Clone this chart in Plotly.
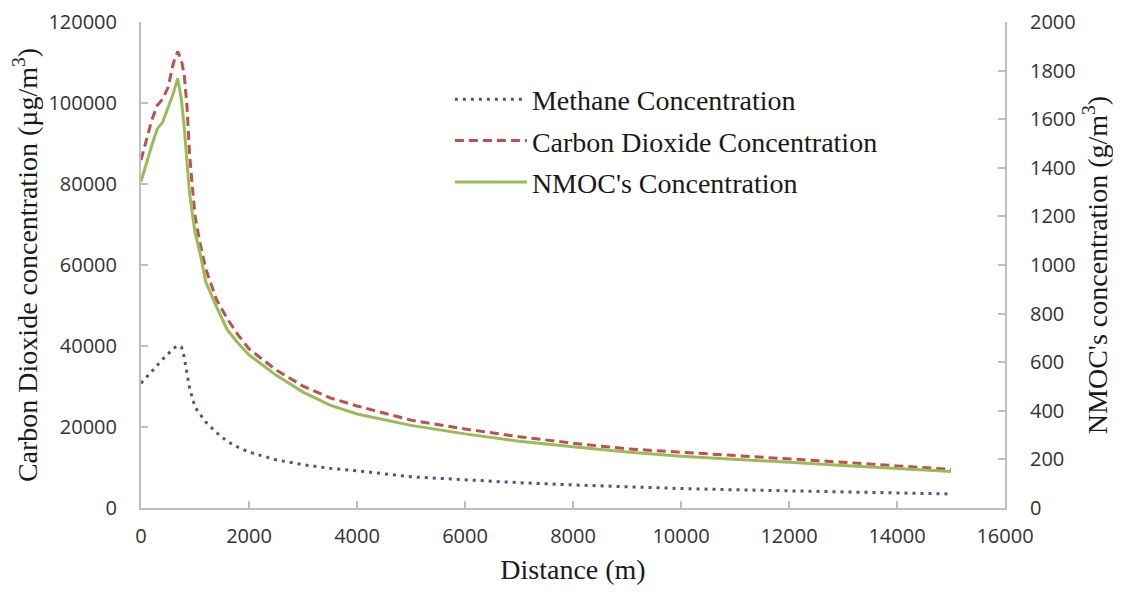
import plotly.graph_objects as go

distance = [0, 100, 200, 300, 400, 500, 600, 680, 750, 800, 850, 900, 1000, 1100, 1200,
            1400, 1600, 1800, 2000, 2500, 3000, 3500, 4000, 5000, 6000, 7000, 8000,
            9000, 10000, 11000, 12000, 13000, 14000, 15000]

methane = [30800, 32300, 33900, 35300, 36700, 38000, 39400, 40100, 39700, 37300, 33800, 29500,
           24900, 22900, 21200, 18600, 16400, 15000, 13800, 11900, 10700, 9800, 9200, 7700,
           6900, 6250, 5700, 5200, 4800, 4500, 4200, 3950, 3700, 3460]

co2 = [85900, 90800, 95800, 99400, 101000, 103800, 109900, 112700, 110400, 107000, 99500, 87200,
       72100, 64900, 59000, 51400, 46700, 42700, 39300, 34100, 30100, 27200, 25200, 21700,
       19500, 17600, 16000, 14600, 13800, 13000, 12200, 11300, 10400, 9550]

nmoc = [1343, 1422, 1493, 1560, 1587, 1647, 1708, 1768, 1678, 1567, 1412, 1292,
        1135, 1042, 930, 827, 733, 678, 630, 547, 477, 423, 387, 340,
        305, 275, 252, 230, 213, 202, 188, 175, 162, 150]

names = ["Methane Concentration", "Carbon Dioxide Concentration", "NMOC's Concentration"]

fig = go.Figure()
fig.add_trace(go.Scatter(x=distance, y=methane, name=names[0], mode="lines",
                         line=dict(color="#5F4B8B", width=3, dash="3px,5px"),
                         legendgroup="a"))
fig.add_trace(go.Scatter(x=distance, y=co2, name=names[1], mode="lines",
                         line=dict(color="#C0504D", width=3, dash="9px,5px"),
                         legendgroup="b"))
fig.add_trace(go.Scatter(x=distance, y=nmoc, name=names[2], mode="lines",
                         line=dict(color="#9BBB59", width=3),
                         yaxis="y2", legendgroup="c"))

title_font = dict(family="Liberation Serif", size=28, color="#1a1a1a")
axis_common = dict(showline=True, linecolor="#BFBFBF", linewidth=2, ticks="inside",
                   ticklen=7, tickcolor="#BFBFBF", tickwidth=2, showgrid=False, zeroline=False,
                   automargin=False, tickformat="d",
                   tickfont=dict(family="Open Sans", size=20, color="#333333"))

# page body has an 8px margin, so the figure is sized to fit inside the window
fig.update_layout(
    width=1105, height=577,
    margin=dict(l=133, r=108, t=14, b=77),
    paper_bgcolor="white", plot_bgcolor="white",
    xaxis=dict(range=[0, 16000], dtick=2000, tick0=0,
               title=dict(text="Distance (m)", standoff=25, font=title_font),
               ticklabelstandoff=9, **axis_common),
    yaxis=dict(range=[0, 120000], dtick=20000, tick0=0,
               title=dict(text="Carbon Dioxide concentration (µg/m<sup>3</sup>)", standoff=14,
                          font=title_font),
               ticklabelstandoff=18, **axis_common),
    yaxis2=dict(range=[0, 2000], dtick=200, tick0=0, overlaying="y", side="right",
                title=dict(text="NMOC's concentration (g/m<sup>3</sup>)", standoff=14,
                           font=title_font),
                ticklabelstandoff=19, **axis_common),
    legend=dict(x=0.3575, y=0.892, xanchor="left", yanchor="top",
                bgcolor="rgba(0,0,0,0)", tracegroupgap=2, itemwidth=72,
                font=dict(family="Liberation Serif", size=28, color="#1a1a1a")),
    showlegend=True,
)

fig.write_html("out.html")
